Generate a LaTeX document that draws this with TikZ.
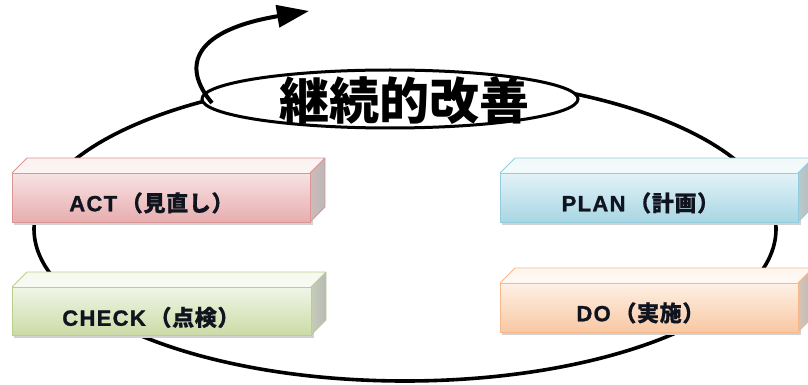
\documentclass[tikz,border=0pt]{standalone}
\usepackage{fontspec}
\newfontfamily\jp{Noto Sans CJK JP}
\newfontfamily\lat{Liberation Sans}[LetterSpace=6,FakeBold=1.2]
\usetikzlibrary{arrows.meta}
\definecolor{actT}{HTML}{F8E2E2}\definecolor{actB}{HTML}{E7ADAF}\definecolor{actL}{HTML}{D99694}\definecolor{actTop}{HTML}{FCF1F1}
\definecolor{chkT}{HTML}{F0F5E6}\definecolor{chkB}{HTML}{CADBA6}\definecolor{chkL}{HTML}{B9CF8C}\definecolor{chkTop}{HTML}{F6F9EF}
\definecolor{plnT}{HTML}{E2F2F7}\definecolor{plnB}{HTML}{A8D6E3}\definecolor{plnL}{HTML}{93CDDD}\definecolor{plnTop}{HTML}{F1F9FB}
\definecolor{doT}{HTML}{FEF0E5}\definecolor{doB}{HTML}{F8C8A2}\definecolor{doL}{HTML}{F6B88A}\definecolor{doTop}{HTML}{FEF6F0}
\definecolor{txt}{HTML}{10141E}
\tikzset{
  ring/.style={line width=3.6pt,black},
  boxtext/.style={font=\jp\bfseries\fontsize{22}{26}\selectfont,inner sep=0pt,text=txt},
  titletext/.style={font=\jp\bfseries\fontsize{50}{58}\selectfont,inner sep=0pt},
}
\newcommand{\bt}[2]{{\lat\bfseries #1}\,{\addfontfeature{LetterSpace=3,FakeBold=0.6}#2}}
% #1 name, #2 x1, #3 y1, #4 x2, #5 y2, #6 prefix colour
\newcommand{\prismbox}[6]{%
  \fill[black!18] (#2+2,#3+3) rectangle (#4+3,#5+3);
  \shade[top color=#6Top,bottom color=#6Top!80!white] (#2,#3) -- (#2+15,#3-15) -- (#4+15,#3-15) -- (#4,#3) -- cycle;
  \shade[left color=#6B!60!gray!70,right color=gray!55] (#4,#3) -- (#4+15,#3-15) -- (#4+15,#5-15) -- (#4,#5) -- cycle;
  \draw[#6L,line width=0.8pt] (#2,#3) -- (#2+15,#3-15) -- (#4+15,#3-15) -- (#4+15,#5-15) -- (#4,#5) (#4,#3) -- (#4+15,#3-15);
  \node[draw=#6L,line width=0.8pt,top color=#6T,bottom color=#6B,minimum width=#4pt-#2pt,minimum height=#5pt-#3pt,inner sep=0pt,anchor=north west] (#1) at (#2,#3) {};
}
\begin{document}
\begin{tikzpicture}[x=1pt,y=-1pt]
\useasboundingbox (0,0) rectangle (808,385);
% big cycle
\draw[ring] (405,229) ellipse [x radius=371pt,y radius=152pt];
% small ellipse with title
\draw[line width=3pt,fill=white] (390,99) ellipse [x radius=188pt,y radius=29pt];
\node[titletext] (title) at (404,101) {継続的改善};
\coordinate (arrstart) at (212,103);
\coordinate (arrend) at (309,11);
\draw[line width=4pt,-{Triangle[length=32pt,width=22pt]}] (arrstart) .. controls (180,65) and (195,30) .. (arrend);
% boxes
\prismbox{act}{12}{173}{310}{222}{act}
\node[boxtext] (acttext) at ([xshift=-10pt,yshift=-5pt]act.center) {\bt{ACT}{（見直し）}};
\prismbox{check}{12}{287}{311}{335}{chk}
\node[boxtext] (checktext) at ([xshift=-11pt,yshift=-6pt]check.center) {\bt{CHECK}{（点検）}};
\prismbox{plan}{500}{173}{798}{222}{pln}
\node[boxtext] (plantext) at ([xshift=-9pt,yshift=-5pt]plan.center) {\bt{PLAN}{（計画）}};
\prismbox{do}{500}{283}{798}{332}{do}
\node[boxtext] (dotext) at ([xshift=-9pt,yshift=-5pt]do.center) {\bt{DO}{（実施）}};
\end{tikzpicture}
\end{document}
